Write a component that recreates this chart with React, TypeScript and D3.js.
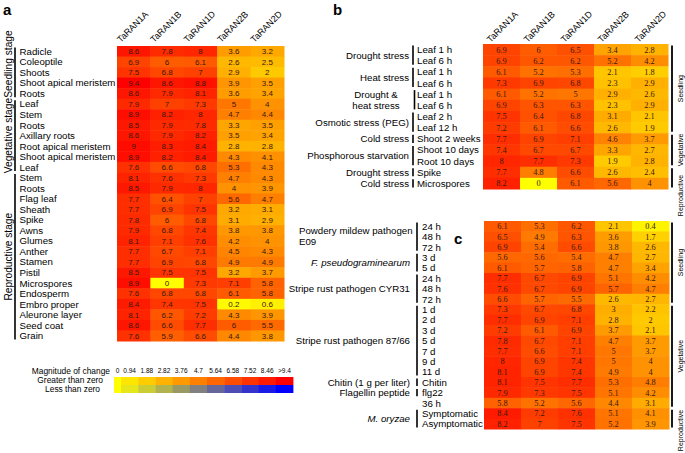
import React from "react";
import * as d3 from "d3";

const GENES = ["TaRAN1A", "TaRAN1B", "TaRAN1D", "TaRAN2B", "TaRAN2D"];

// Panel a
const A_TISSUES = [
  "Radicle", "Coleoptile", "Shoots", "Shoot apical meristem", "Roots",
  "Leaf", "Stem", "Roots", "Axillary roots", "Root apical meristem", "Shoot apical meristem", "Leaf",
  "Stem", "Roots", "Flag leaf", "Sheath", "Spike", "Awns", "Glumes", "Anther", "Stamen", "Pistil",
  "Microspores", "Endosperm", "Embro proper", "Aleurone layer", "Seed coat", "Grain",
];
const A_VALUES = [
  [8.6, 7.8, 8, 3.6, 3.2],
  [6.9, 6, 6.1, 2.6, 2.5],
  [7.5, 6.8, 7, 2.9, 2],
  [9.4, 8.6, 8.8, 3.9, 3.5],
  [8.6, 7.9, 8.1, 3.6, 3.4],
  [7.9, 7, 7.3, 5, 4],
  [8.9, 8.2, 8, 4.7, 4.4],
  [8.5, 7.9, 7.8, 3.3, 3.5],
  [8.6, 7.9, 8.2, 3.5, 3.4],
  [9, 8.3, 8.4, 2.8, 2.8],
  [8.9, 8.2, 8.4, 4.3, 4.1],
  [7.6, 6.6, 6.8, 5.3, 4.3],
  [8.1, 7.6, 7.3, 4.7, 4.3],
  [8.5, 7.9, 8, 4, 3.9],
  [7.7, 6.4, 7, 5.6, 4.7],
  [7.7, 6.9, 7.5, 3.2, 3.1],
  [7.8, 6, 6.8, 3.1, 2.9],
  [7.9, 6.8, 7.4, 3.8, 3.8],
  [8.1, 7.1, 7.6, 4.2, 4],
  [7.7, 6.7, 7.1, 4.5, 4.3],
  [7.7, 6.9, 6.8, 4.9, 4.9],
  [8.5, 7.5, 7.5, 3.2, 3.7],
  [8.9, 0, 7.3, 7.1, 5.8],
  [7.6, 6.8, 6.8, 6.1, 5.8],
  [8.4, 7.4, 7.5, 0.2, 0.6],
  [8.1, 6.2, 7.2, 4.3, 3.9],
  [8.6, 6.6, 7.7, 6, 5.5],
  [7.6, 5.9, 6.6, 4.4, 3.8],
];
const A_STAGES = [
  { label: "Seedling stage", from: 0, to: 4 },
  { label: "Vegetative stage", from: 5, to: 11 },
  { label: "Reproductive stage", from: 12, to: 27 },
];

// Panel b
const B_SAMPLES = [
  "Leaf 1 h", "Leaf 6 h", "Leaf 1 h", "Leaf 6 h", "Leaf 1 h", "Leaf 6 h",
  "Leaf 2 h", "Leaf 12 h", "Shoot 2 weeks", "Shoot 10 days", "Root 10 days", "Spike", "Microspores",
];
const B_VALUES = [
  [6.9, 6, 6.5, 3.4, 2.8],
  [6.9, 6.2, 6.2, 5.2, 4.2],
  [6.1, 5.2, 5.3, 2.1, 1.8],
  [7.3, 6.9, 6.8, 2.3, 2.9],
  [6.1, 5.2, 5, 2.9, 2.6],
  [6.9, 6.3, 6.3, 2.3, 2.9],
  [7.5, 6.4, 6.8, 3.1, 2.1],
  [7.2, 6.1, 6.6, 2.6, 1.9],
  [7.7, 6.9, 7.1, 4.6, 3.7],
  [7.4, 6.7, 6.7, 3.3, 2.7],
  [8, 7.7, 7.3, 1.9, 2.8],
  [7.7, 4.8, 6.6, 2.6, 2.4],
  [8.2, 0, 6.1, 5.6, 4],
];
const B_GROUPS = [
  { lines: ["Drought stress"], from: 0, to: 1 },
  { lines: ["Heat stress"], from: 2, to: 3 },
  { lines: ["Drought &", "heat stress"], from: 4, to: 5 },
  { lines: ["Osmotic stress (PEG)"], from: 6, to: 7 },
  { lines: ["Cold stress"], from: 8, to: 8 },
  { lines: ["Phosphorous starvation"], from: 9, to: 10 },
  { lines: ["Drought stress"], from: 11, to: 11 },
  { lines: ["Cold stress"], from: 12, to: 12 },
];
const B_STAGES = [
  { label: "Seedling", from: 0, to: 7 },
  { label: "Vegetative", from: 8, to: 10 },
  { label: "Reproductive", from: 11, to: 12 },
];

// Panel c
const C_SAMPLES = [
  "24 h", "48 h", "72 h", "3 d", "5 d", "24 h", "48 h", "72 h",
  "1 d", "2 d", "3 d", "5 d", "7 d", "9 d", "11 d", "Chitin", "flg22", "36 h",
  "Symptomatic", "Asymptomatic",
];
const C_VALUES = [
  [6.1, 5.3, 6.2, 2.1, 0.4],
  [6.5, 4.9, 6.3, 3.6, 1.7],
  [6.9, 5.4, 6.6, 3.8, 2.6],
  [5.6, 5.6, 5.4, 4.7, 2.7],
  [6.1, 5.7, 5.8, 4.7, 3.4],
  [7.7, 6.7, 6.9, 5.1, 4.2],
  [7.6, 6.7, 6.9, 5.7, 4.7],
  [6.6, 5.7, 5.5, 2.6, 2.7],
  [7.3, 6.7, 6.8, 3, 2.2],
  [7.7, 6.9, 7.1, 2.8, 2],
  [7.2, 6.1, 6.9, 3.7, 2.1],
  [7.8, 6.7, 7.1, 4.7, 3.7],
  [7.7, 6.6, 7.1, 5, 3.7],
  [8, 6.9, 7.4, 5, 4],
  [8.1, 6.9, 7.4, 4.9, 4],
  [8.1, 7.5, 7.7, 5.3, 4.8],
  [7.9, 7.3, 7.5, 5.1, 4.2],
  [5.8, 5.2, 5.6, 4.4, 3.1],
  [8.4, 7.2, 7.6, 5.1, 4.1],
  [8.2, 7, 7.5, 5.2, 3.9],
];
const C_GROUPS = [
  { lines: ["Powdery mildew pathogen", "E09"], from: 0, to: 2, italic: false, left: true, bar: true },
  { lines: ["F. pseudograminearum"], from: 3, to: 4, italic: true, left: false, bar: true },
  { lines: ["Stripe rust pathogen CYR31"], from: 5, to: 7, italic: false, left: false, bar: true },
  { lines: ["Stripe rust pathogen 87/66"], from: 8, to: 14, italic: false, left: false, bar: true },
  { lines: ["Chitin (1 g per liter)"], from: 15, to: 15, italic: false, left: false, bar: true },
  { lines: ["Flagellin peptide"], from: 16, to: 16, italic: false, left: false, bar: true },
  { lines: [""], from: 17, to: 17, italic: false, left: false, bar: false },
  { lines: ["M. oryzae"], from: 18, to: 19, italic: true, left: false, bar: true },
];
const C_STAGES = [
  { label: "Seedling", from: 0, to: 7 },
  { label: "Vegetative", from: 8, to: 17 },
  { label: "Reproductive", from: 18, to: 19 },
];

// Legend
const LEGEND_TICKS = ["0", "0.94", "1.88", "2.82", "3.76", "4.7", "5.64", "6.58", "7.52", "8.46", ">9.4"];
const LEGEND_STEPS = [0, 0.94, 1.88, 2.82, 3.76, 4.7, 5.64, 6.58, 7.52, 8.46, 9.4];

const SANS = "'Liberation Sans', Arial, Helvetica, sans-serif";
const SERIF = "'Liberation Serif', 'Times New Roman', Times, serif";

const posColor = d3.scaleLinear<string>().domain([0, 9.4]).range(["#ffff00", "#ff0000"]).clamp(true);
const negColor = d3.scaleLinear<string>().domain([0, 9.4]).range(["#ffff00", "#0000ff"]).clamp(true);

type HMProps = {
  values: number[][];
  x0: number; x1: number; y0: number; y1: number;
  font: string; fontSize: number;
};

function Heatmap({ values, x0, x1, y0, y1, font, fontSize }: HMProps) {
  const x = d3.scaleBand<number>().domain(d3.range(GENES.length)).range([x0, x1]);
  const y = d3.scaleBand<number>().domain(d3.range(values.length)).range([y0, y1]);
  return (
    <g>
      {values.map((row, i) =>
        row.map((v, j) => (
          <g key={`${i}-${j}`}>
            <rect x={x(j)!} y={y(i)!} width={x.bandwidth() + 0.5} height={y.bandwidth() + 0.5} fill={posColor(v)} />
            <text
              x={x(j)! + x.bandwidth() / 2}
              y={y(i)! + y.bandwidth() / 2 + fontSize * 0.36}
              textAnchor="middle"
              style={{ fontFamily: font, fontSize: fontSize }}
              fill="#3a1a0a"
            >
              {String(v)}
            </text>
          </g>
        ))
      )}
    </g>
  );
}

function Headers({ x0, x1, yBase, dx }: { x0: number; x1: number; yBase: number; dx: number }) {
  const x = d3.scaleBand<number>().domain(d3.range(GENES.length)).range([x0, x1]);
  return (
    <g>
      {GENES.map((g, j) => {
        const tx = x(j)! + x.bandwidth() / 2 + dx;
        return (
          <text key={g} transform={`translate(${tx},${yBase}) rotate(-45)`} style={{ fontFamily: SANS, fontSize: 9 }} fill="#000">
            {g}
          </text>
        );
      })}
    </g>
  );
}

function T(props: any) {
  const { fs, italic, bold, children, ...rest } = props;
  return (
    <text {...rest} style={{ fontFamily: SANS, fontSize: fs, fontStyle: italic ? "italic" : "normal", fontWeight: bold ? "bold" : "normal" }}>
      {children}
    </text>
  );
}

export default function App() {
  const ay = d3.scaleBand<number>().domain(d3.range(A_TISSUES.length)).range([46, 341]);
  const by = d3.scaleBand<number>().domain(d3.range(B_SAMPLES.length)).range([44, 189]);
  const cy = d3.scaleBand<number>().domain(d3.range(C_SAMPLES.length)).range([221, 429]);
  const lx = d3.scaleBand<number>().domain(d3.range(LEGEND_STEPS.length - 1)).range([121, 293]);

  const labelFs = 9.7;

  return (
    <svg width={685} height={453} style={{ position: "absolute", left: 0, top: 0, background: "#fff" }}>
      <T x={3} y={15} fs={15} bold>a</T>
      <T x={333} y={15} fs={15} bold>b</T>
      <T x={454} y={244} fs={15} bold>c</T>

      {/* Panel a */}
      <Headers x0={117} x1={284} yBase={43} dx={-13} />
      <Heatmap values={A_VALUES} x0={117} x1={284} y0={46} y1={341} font={SANS} fontSize={8} />
      {A_TISSUES.map((t, i) => (
        <T key={i} x={19.5} y={ay(i)! + ay.bandwidth() / 2 + 3.5} fs={labelFs}>{t}</T>
      ))}
      {A_STAGES.map((s, k) => {
        const top = ay(s.from)! + 1.5;
        const bot = ay(s.to)! + ay.bandwidth() - 1.5;
        const mid = k === 0 ? 64 : (top + bot) / 2;
        return (
          <g key={s.label}>
            <line x1={15} x2={15} y1={top} y2={bot} stroke="#000" strokeWidth={1.6} />
            <T transform={`translate(11.5,${mid}) rotate(-90)`} textAnchor="middle" fs={10.2}>{s.label}</T>
          </g>
        );
      })}

      {/* Legend */}
      <T x={110} y={373.5} textAnchor="end" fs={8.4}>Magnitude of change</T>
      <T x={103} y={383} textAnchor="end" fs={8.4}>Greater than zero</T>
      <T x={100} y={391.5} textAnchor="end" fs={8.4}>Less than zero</T>
      <rect x={114} y={377} width={7} height={8} fill={posColor(0)} />
      <rect x={114} y={385} width={7} height={8} fill={negColor(0)} />
      <T x={117.5} y={373} textAnchor="middle" fs={6.5}>{LEGEND_TICKS[0]}</T>
      {LEGEND_STEPS.slice(1).map((v, i) => (
        <g key={i}>
          <rect x={lx(i)!} y={377} width={lx.bandwidth() + 0.4} height={8} fill={posColor(v)} />
          <rect x={lx(i)!} y={385} width={lx.bandwidth() + 0.4} height={8} fill={negColor(v)} />
          <T x={lx(i)! + lx.bandwidth() / 2} y={373} textAnchor="middle" fs={6.5}>{LEGEND_TICKS[i + 1]}</T>
        </g>
      ))}

      {/* Panel b */}
      <Headers x0={483} x1={668} yBase={43} dx={-11} />
      <Heatmap values={B_VALUES} x0={483} x1={668} y0={44} y1={189} font={SERIF} fontSize={8.3} />
      {B_SAMPLES.map((t, i) => (
        <T key={i} x={417} y={by(i)! + by.bandwidth() / 2 + 3.5} fs={labelFs}>{t}</T>
      ))}
      {B_GROUPS.map((g, k) => {
        const top = by(g.from)! + 1.5;
        const bot = by(g.to)! + by.bandwidth() - 1.5;
        const mid = (by(g.from)! + by(g.to)! + by.bandwidth()) / 2;
        const two = g.lines.length > 1;
        return (
          <g key={k}>
            <line x1={two ? 414.5 : 413} x2={two ? 414.5 : 413} y1={top} y2={bot} stroke="#000" strokeWidth={1.6} />
            {two ? (
              g.lines.map((l, li) => (
                <T key={li} x={376} y={by(g.from + li)! + by.bandwidth() / 2 + 3.5} textAnchor="middle" fs={labelFs}>{l}</T>
              ))
            ) : (
              <T x={409} y={mid + 3.5} textAnchor="end" fs={labelFs}>{g.lines[0]}</T>
            )}
          </g>
        );
      })}
      {B_STAGES.map((s) => {
        const top = by(s.from)! + 1.5;
        const bot = by(s.to)! + by.bandwidth() - 1.5;
        const mid = s.label === "Reproductive" ? bot + 8 : (top + bot) / 2;
        return (
          <g key={s.label}>
            <line x1={672} x2={672} y1={top} y2={bot} stroke="#000" strokeWidth={1.8} />
            <T transform={`translate(683,${mid}) rotate(-90)`} textAnchor="middle" fs={7}>{s.label}</T>
          </g>
        );
      })}

      {/* Panel c */}
      <Heatmap values={C_VALUES} x0={484} x1={669} y0={221} y1={429} font={SERIF} fontSize={8.3} />
      {C_SAMPLES.map((t, i) => (
        <T key={i} x={422} y={cy(i)! + cy.bandwidth() / 2 + 3.5} fs={labelFs}>{t}</T>
      ))}
      {C_GROUPS.map((g, k) => {
        const top = cy(g.from)! + 1.5;
        const bot = cy(g.to)! + cy.bandwidth() - 1.5;
        const mid = (cy(g.from)! + cy(g.to)! + cy.bandwidth()) / 2;
        return (
          <g key={k}>
            {g.bar && <line x1={417} x2={417} y1={top} y2={bot} stroke="#000" strokeWidth={1.6} />}
            {g.left ? (
              g.lines.map((l, li) => (
                <T key={li} x={299} y={mid - 3 + li * 11} fs={labelFs}>{l}</T>
              ))
            ) : (
              <T x={410} y={mid + 3.5} textAnchor="end" fs={labelFs} italic={g.italic}>{g.lines[0]}</T>
            )}
          </g>
        );
      })}
      {C_STAGES.map((s) => {
        const top = cy(s.from)! + 1.5;
        const bot = cy(s.to)! + cy.bandwidth() - 1.5;
        const mid = s.label === "Reproductive" ? bot + 3 : (top + bot) / 2;
        return (
          <g key={s.label}>
            <line x1={672} x2={672} y1={top} y2={bot} stroke="#000" strokeWidth={1.8} />
            <T transform={`translate(683,${mid}) rotate(-90)`} textAnchor="middle" fs={7}>{s.label}</T>
          </g>
        );
      })}
    </svg>
  );
}
